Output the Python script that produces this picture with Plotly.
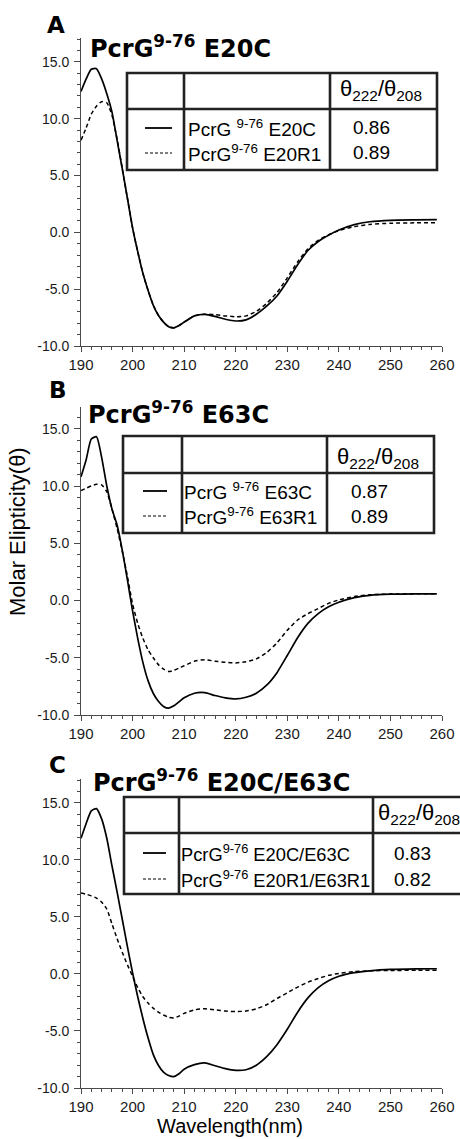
import plotly.graph_objects as go

# ---------------------------------------------------------------- data
WAVELENGTH = [190, 191, 192, 193, 194, 195, 196, 197, 198, 199, 200,
              201, 202, 203, 204, 205, 206, 207, 208, 209, 210,
              212, 214, 216, 218, 220, 222, 224, 226, 228, 230,
              232, 234, 236, 238, 240, 243, 246, 250, 255, 259]

# Panel A: PcrG9-76 E20C (solid) and E20R1 (dashed)
E20C = [12.4, 13.5, 14.35, 14.4, 13.5, 12.2, 10.6, 8.1, 5.6, 3.0, 0.4,
        -1.7, -3.6, -5.1, -6.4, -7.3, -7.9, -8.3, -8.4, -8.2, -7.9,
        -7.35, -7.22, -7.4, -7.65, -7.8, -7.7, -7.2, -6.5, -5.6, -4.3,
        -2.85, -1.6, -0.8, -0.25, 0.2, 0.68, 0.93, 1.06, 1.1, 1.12]
E20R1 = [8.1, 9.2, 10.4, 11.1, 11.5, 11.4, 10.3, 8.2, 5.6, 3.0, 0.4,
         -1.7, -3.6, -5.1, -6.4, -7.3, -7.9, -8.3, -8.4, -8.2, -7.9,
         -7.35, -7.2, -7.25, -7.35, -7.42, -7.35, -6.95, -6.25, -5.3, -4.0,
         -2.6, -1.45, -0.7, -0.2, 0.15, 0.5, 0.7, 0.8, 0.84, 0.85]

# Panel B: PcrG9-76 E63C (solid) and E63R1 (dashed)
E63C = [10.8, 12.3, 14.1, 14.3, 12.5, 10.0, 8.0, 6.6, 4.4, 1.8, -0.9,
        -3.3, -5.4, -7.0, -8.1, -8.8, -9.25, -9.4, -9.2, -8.85, -8.5,
        -8.1, -8.05, -8.3, -8.5, -8.6, -8.45, -8.1, -7.4, -6.3, -4.8,
        -3.25, -2.0, -1.15, -0.55, -0.15, 0.25, 0.45, 0.55, 0.58, 0.58]
E63R1 = [9.6, 9.8, 10.0, 10.15, 10.1, 9.5, 8.0, 6.3, 4.3, 2.1, -0.3,
         -2.0, -3.3, -4.3, -5.0, -5.6, -6.0, -6.2, -6.1, -5.9, -5.7,
         -5.3, -5.17, -5.3, -5.4, -5.45, -5.35, -5.1, -4.55, -3.7, -2.6,
         -1.7, -1.15, -0.7, -0.25, 0.05, 0.35, 0.5, 0.56, 0.58, 0.58]

# Panel C: PcrG9-76 E20C/E63C (solid) and E20R1/E63R1 (dashed)
E20C_E63C = [11.9, 13.2, 14.3, 14.5, 13.6, 11.9, 9.5, 7.2, 4.8, 2.4, 0.1,
             -2.0, -3.9, -5.6, -7.05, -8.0, -8.6, -8.9, -9.0, -8.75, -8.35,
             -7.95, -7.8, -8.05, -8.3, -8.45, -8.4, -8.0, -7.25, -6.2, -4.85,
             -3.35, -2.1, -1.2, -0.6, -0.2, 0.12, 0.28, 0.4, 0.45, 0.46]
E20R1_E63R1 = [7.1, 7.0, 6.85, 6.65, 6.3, 5.7, 4.4, 3.1, 1.9, 0.8, -0.2,
               -1.2, -2.0, -2.55, -3.0, -3.35, -3.6, -3.8, -3.85, -3.7, -3.45,
               -3.15, -3.05, -3.15, -3.25, -3.3, -3.25, -3.05, -2.7, -2.15, -1.65,
               -1.15, -0.72, -0.4, -0.12, 0.05, 0.2, 0.28, 0.31, 0.32, 0.32]

PANEL_LETTERS = ["A", "B", "C"]
PANEL_TITLES = ["PcrG<sup>9-76</sup> E20C",
                "PcrG<sup>9-76</sup> E63C",
                "PcrG<sup>9-76</sup> E20C/E63C"]
ROW_LABELS = [["PcrG <sup>9-76</sup> E20C", "PcrG<sup>9-76</sup> E20R1"],
              ["PcrG <sup>9-76</sup> E63C", "PcrG<sup>9-76</sup> E63R1"],
              ["PcrG<sup>9-76</sup> E20C/E63C", "PcrG<sup>9-76</sup> E20R1/E63R1"]]
RATIOS = [["0.86", "0.89"], ["0.87", "0.89"], ["0.83", "0.82"]]
RATIO_HEADER = "θ<sub>222</sub>/θ<sub>208</sub>"
SERIES = [(E20C, E20R1), (E63C, E63R1), (E20C_E63C, E20R1_E63R1)]

X_TICKS = [190, 200, 210, 220, 230, 240, 250, 260]
Y_TICKS = [-10, -5, 0, 5, 10, 15]
Y_TICK_LABELS = ["-10.0", "-5.0", "0.0", "5.0", "10.0", "15.0"]
X_TITLE = "Wavelength(nm)"
Y_TITLE = "Molar Elipticity(θ)"

# ---------------------------------------------------------------- layout
W, H = 460, 1139
FONT = "Liberation Sans, Arial, sans-serif"
BOLD_FONT = "DejaVu Sans, Liberation Sans, Arial, sans-serif"
INK = "#1a1a1a"
AXIS = "#4a4a4a"


def px(x):
    return x / W


def py(y):
    return 1 - y / H


# per panel: plot-area pixels (top, bottom), y-range top, table geometry
PANELS = [
    dict(top=38, bottom=346, ymax=17.1, letter=(56, 25), title=(88, 47),
         tbl=(127, 437, 73, 170), hdr=109, cols=(184, 330),
         leg=(145, 172), rows=(128, 153), text_x=186, val_x=371, hdr_x=381,
         hdr_y=90, hdr_anchor="center", row_size=19),
    dict(top=407, bottom=715, ymax=16.9, letter=(58, 390), title=(86, 413),
         tbl=(123, 434, 436, 533), hdr=473, cols=(182, 327),
         leg=(143, 167), rows=(491, 516), text_x=182, val_x=369, hdr_x=378,
         hdr_y=458, hdr_anchor="center", row_size=19),
    dict(top=779, bottom=1088, ymax=17.1, letter=(57, 765), title=(91, 781),
         tbl=(124, 475, 797, 894), hdr=833, cols=(179, 373),
         leg=(143, 166), rows=(853, 879), text_x=179, val_x=412, hdr_x=376,
         hdr_y=814, hdr_anchor="left", row_size=18.3),
]
X0, X1 = 81, 442

fig = go.Figure()
shapes, annotations = [], []

for i, (panel, (solid, dashed)) in enumerate(zip(PANELS, SERIES)):
    sfx = "" if i == 0 else str(i + 1)
    xa, ya = "x" + sfx, "y" + sfx

    fig.add_trace(go.Scatter(
        x=WAVELENGTH, y=solid, mode="lines", xaxis=xa, yaxis=ya,
        line=dict(color="black", width=1.7, shape="spline", smoothing=0.6),
        showlegend=False, hoverinfo="skip"))
    fig.add_trace(go.Scatter(
        x=WAVELENGTH, y=dashed, mode="lines", xaxis=xa, yaxis=ya,
        line=dict(color="black", width=1.5, dash="4px,3px",
                  shape="spline", smoothing=0.6),
        showlegend=False, hoverinfo="skip"))

    common = dict(showline=True, linecolor=AXIS, linewidth=1,
                  ticks="outside", tickwidth=1, tickcolor=AXIS,
                  showgrid=False, zeroline=False, fixedrange=True,
                  automargin=False)
    fig.update_layout(**{
        "xaxis" + sfx: dict(
            common, domain=[px(X0), px(X1)], range=[190, 260],
            anchor=ya, tickmode="array", tickvals=X_TICKS,
            ticklen=5, ticklabelstandoff=0,
            tickfont=dict(family=FONT, size=15, color=INK),
            minor=dict(ticks="outside", dtick=2, tick0=190, ticklen=3,
                       tickcolor=AXIS, showgrid=False)),
        "yaxis" + sfx: dict(
            common, domain=[py(panel["bottom"]), py(panel["top"])],
            range=[-10, panel["ymax"]], anchor=xa,
            tickmode="array", tickvals=Y_TICKS, ticktext=Y_TICK_LABELS,
            ticklen=6, ticklabelstandoff=2,
            tickfont=dict(family=FONT, size=14, color=INK),
            minor=dict(ticks="outside", dtick=1, tick0=0, ticklen=3,
                       tickcolor=AXIS, showgrid=False)),
    })

    # panel letter and title
    lx, ly = panel["letter"]
    annotations.append(dict(
        text="<b>%s</b>" % PANEL_LETTERS[i], x=px(lx), y=py(ly),
        xref="paper", yref="paper", xanchor="center", yanchor="middle",
        showarrow=False, font=dict(family=BOLD_FONT, size=23, color="black")))
    tx, ty = panel["title"]
    annotations.append(dict(
        text="<b>%s</b>" % PANEL_TITLES[i], x=px(tx), y=py(ty),
        xref="paper", yref="paper", xanchor="left", yanchor="middle",
        showarrow=False, font=dict(family=BOLD_FONT, size=24, color="black")))

    # ratio table frame
    l, r, t, b = panel["tbl"]
    line = dict(color="#222", width=2.6)
    shapes.append(dict(type="rect", xref="paper", yref="paper",
                       x0=px(l), x1=px(r), y0=py(b), y1=py(t), line=line))
    shapes.append(dict(type="line", xref="paper", yref="paper",
                       x0=px(l), x1=px(r), y0=py(panel["hdr"]),
                       y1=py(panel["hdr"]), line=line))
    for cx in panel["cols"]:
        shapes.append(dict(type="line", xref="paper", yref="paper",
                           x0=px(cx), x1=px(cx), y0=py(b), y1=py(t),
                           line=line))

    # header cell
    annotations.append(dict(
        text=RATIO_HEADER, x=px(panel["hdr_x"]), y=py(panel["hdr_y"]),
        xref="paper", yref="paper", xanchor=panel["hdr_anchor"],
        yanchor="middle", showarrow=False,
        font=dict(family=FONT, size=22, color="black")))

    # legend samples, labels and ratio values
    ll, lr = panel["leg"]
    for k, ry in enumerate(panel["rows"]):
        shapes.append(dict(
            type="line", xref="paper", yref="paper",
            x0=px(ll), x1=px(lr), y0=py(ry), y1=py(ry),
            line=dict(color="black", width=1.8 if k == 0 else 1.2,
                      dash="solid" if k == 0 else "3px,2px")))
        annotations.append(dict(
            text=ROW_LABELS[i][k], x=px(panel["text_x"]), y=py(ry),
            xref="paper", yref="paper", xanchor="left", yanchor="middle",
            showarrow=False,
            font=dict(family=FONT, size=panel["row_size"], color="black")))
        annotations.append(dict(
            text=RATIOS[i][k], x=px(panel["val_x"]), y=py(ry),
            xref="paper", yref="paper", xanchor="center", yanchor="middle",
            showarrow=False, font=dict(family=FONT, size=19, color="black")))

# shared axis titles
annotations.append(dict(
    text=Y_TITLE, x=px(17), y=py(532), xref="paper", yref="paper",
    xanchor="center", yanchor="middle", textangle=-90, showarrow=False,
    font=dict(family=FONT, size=22, color="black")))
annotations.append(dict(
    text=X_TITLE, x=px(230), y=py(1126), xref="paper", yref="paper",
    xanchor="center", yanchor="middle", showarrow=False,
    font=dict(family=FONT, size=20, color="black")))

fig.update_layout(
    width=W, height=H, margin=dict(l=0, r=0, t=0, b=0),
    paper_bgcolor="white", plot_bgcolor="white",
    shapes=shapes, annotations=annotations, showlegend=False)

fig.write_html("out.html", config=dict(displayModeBar=False))
